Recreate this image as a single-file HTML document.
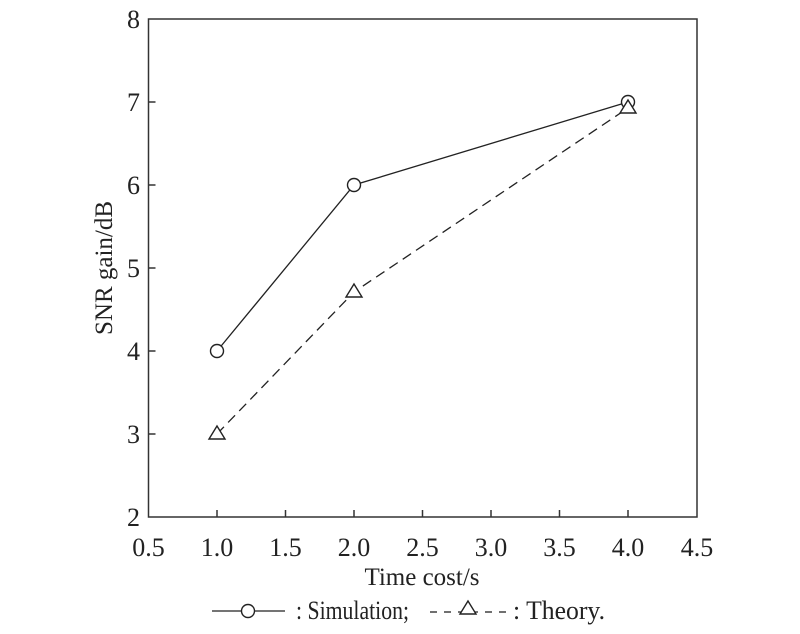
<!DOCTYPE html>
<html><head><style>body{margin:0;background:#fff}</style></head><body>
<svg width="800" height="629" xmlns="http://www.w3.org/2000/svg" font-family="Liberation Serif, serif" fill="#222">
<rect x="148.5" y="19" width="548.5" height="498" fill="none" stroke="#333" stroke-width="1.5"/>
<g stroke="#333" stroke-width="1.5">
<line x1="217" y1="517" x2="217" y2="510"/><line x1="285.5" y1="517" x2="285.5" y2="510"/><line x1="354" y1="517" x2="354" y2="510"/><line x1="422.5" y1="517" x2="422.5" y2="510"/><line x1="491" y1="517" x2="491" y2="510"/><line x1="559.5" y1="517" x2="559.5" y2="510"/><line x1="628" y1="517" x2="628" y2="510"/>
<line x1="148.5" y1="102" x2="155.5" y2="102"/><line x1="148.5" y1="185" x2="155.5" y2="185"/><line x1="148.5" y1="268" x2="155.5" y2="268"/><line x1="148.5" y1="351" x2="155.5" y2="351"/><line x1="148.5" y1="434" x2="155.5" y2="434"/>
</g>
<g font-size="26" text-anchor="middle">
<text x="148.5" y="556">0.5</text><text x="217" y="556">1.0</text><text x="285.5" y="556">1.5</text><text x="354" y="556">2.0</text><text x="422.5" y="556">2.5</text><text x="491" y="556">3.0</text><text x="559.5" y="556">3.5</text><text x="628" y="556">4.0</text><text x="697" y="556">4.5</text>
</g>
<g font-size="26" text-anchor="end">
<text x="140" y="526">2</text><text x="140" y="443">3</text><text x="140" y="360">4</text><text x="140" y="277">5</text><text x="140" y="194">6</text><text x="140" y="111">7</text><text x="140" y="28">8</text>
</g>
<text x="422" y="585" font-size="25" text-anchor="middle">Time cost/s</text>
<text transform="translate(112,268) rotate(-90)" font-size="25" text-anchor="middle">SNR gain/dB</text>
<polyline points="217,351 354,185 628,102" fill="none" stroke="#222" stroke-width="1.3"/>
<polyline points="217,434 354,292 628,108" fill="none" stroke="#222" stroke-width="1.3" stroke-dasharray="10,6"/>
<g fill="#fff" stroke="#222" stroke-width="1.4">
<circle cx="217" cy="351" r="6.5"/><circle cx="354" cy="185" r="6.5"/><circle cx="628" cy="102" r="6.5"/>
<polygon points="217,426 225,439 209,439"/><polygon points="354,284 362,297 346,297"/><polygon points="628,100 636,113 620,113"/>
</g>
<line x1="212" y1="611" x2="285" y2="611" stroke="#222" stroke-width="1.3"/>
<circle cx="248" cy="611" r="6.5" fill="#fff" stroke="#222" stroke-width="1.4"/>
<text x="296" y="619" font-size="26" textLength="113" lengthAdjust="spacingAndGlyphs">: Simulation;</text>
<g stroke="#222" stroke-width="1.3">
<line x1="430" y1="612" x2="437" y2="612"/><line x1="444" y1="612" x2="451" y2="612"/><line x1="458" y1="612" x2="478" y2="612"/><line x1="485" y1="612" x2="492" y2="612"/><line x1="499" y1="612" x2="506" y2="612"/>
</g>
<polygon points="468,601 476,614 460,614" fill="#fff" stroke="#222" stroke-width="1.4"/>
<text x="513" y="619" font-size="26" textLength="92" lengthAdjust="spacingAndGlyphs">: Theory.</text>
</svg>
</body></html>
